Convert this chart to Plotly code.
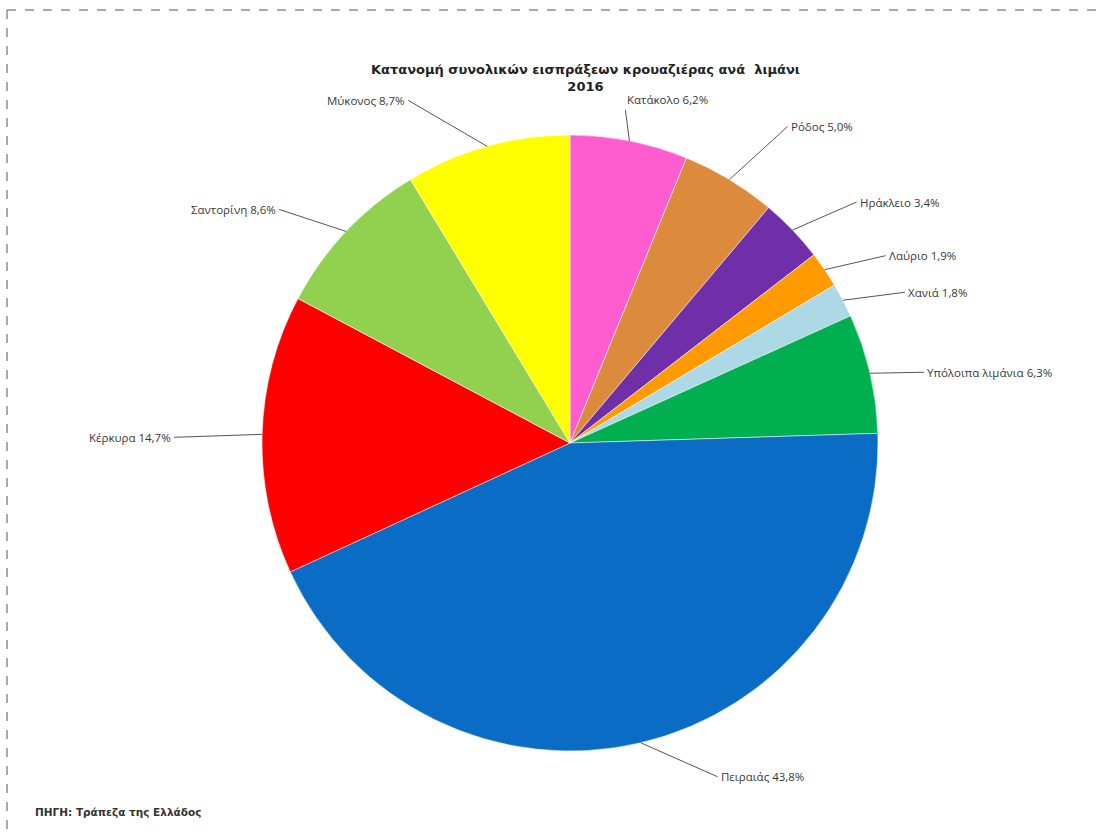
import math
import plotly.graph_objects as go

# ---- data ----
ports = ["Κατάκολο", "Ρόδος", "Ηράκλειο", "Λαύριο", "Χανιά",
         "Υπόλοιπα λιμάνια", "Πειραιάς", "Κέρκυρα", "Σαντορίνη", "Μύκονος"]
shares = [6.2, 5.0, 3.4, 1.9, 1.8, 6.3, 43.8, 14.7, 8.6, 8.7]
share_labels = ["6,2%", "5,0%", "3,4%", "1,9%", "1,8%", "6,3%", "43,8%", "14,7%", "8,6%", "8,7%"]

# ---- style ----
colors = ["#FF5CCF", "#DC8A3C", "#6E2FA8", "#FF9A00", "#ADD8E6",
          "#00B050", "#0A6CC4", "#FF0000", "#92D050", "#FFFF00"]
# leader-line offsets (pixels) from slice edge to label, per label
leader_off = [(-4, -31), (58, -53), (64, -28), (61, -14), (62, -8),
              (54, -1), (77, 34), (-88, 3), (-67, -22), (-79, -46)]

W, H = 1105, 838
CX, CY, R = 570, 443, 308  # pie centre / radius in pixels


def px(x):
    return x / W


def py(y):
    return 1 - y / H


fig = go.Figure(go.Pie(
    labels=ports, values=shares, sort=False, direction="clockwise", rotation=0,
    marker=dict(colors=colors, line=dict(color="rgba(255,255,255,0.5)", width=1)),
    textinfo="none", hoverinfo="label+percent",
    domain=dict(x=[px(CX - R), px(CX + R)], y=[py(CY + R), py(CY - R)]),
    showlegend=False,
))

total = sum(shares)
cum = 0
annotations = []
shapes = []
for name, val, lab, (dx, dy) in zip(ports, shares, share_labels, leader_off):
    mid = (cum + val / 2) / total * 2 * math.pi
    cum += val
    tx = CX + R * math.sin(mid)
    ty = CY - R * math.cos(mid)
    ex, ey = tx + dx, ty + dy
    shapes.append(dict(type="line", xref="paper", yref="paper",
                       x0=px(tx), y0=py(ty), x1=px(ex), y1=py(ey),
                       line=dict(color="#555555", width=1)))
    if name == "Κατάκολο":
        xa, ya, tx_, ty_ = "left", "bottom", ex, ey - 1
    elif dx >= 0:
        xa, ya, tx_, ty_ = "left", "middle", ex + 1, ey
    else:
        xa, ya, tx_, ty_ = "right", "middle", ex - 1, ey
    annotations.append(dict(
        x=px(tx_), y=py(ty_), xref="paper", yref="paper",
        text=f"{name} {lab}", showarrow=False, xanchor=xa, yanchor=ya,
        font=dict(family="Open Sans", size=11.5, color="#383838")))

# title
annotations.append(dict(
    x=px(585), y=py(78), xref="paper", yref="paper", xanchor="center", yanchor="middle",
    text="<b>Κατανομή συνολικών εισπράξεων κρουαζιέρας ανά  λιμάνι<br>2016</b>",
    showarrow=False, font=dict(family="DejaVu Sans", size=13, color="#222222")))
# source
annotations.append(dict(
    x=px(33), y=py(812), xref="paper", yref="paper", xanchor="left", yanchor="middle",
    text="<b>ΠΗΓΗ: Τράπεζα της Ελλάδος</b>", showarrow=False,
    font=dict(family="DejaVu Sans", size=10.5, color="#333333")))

# dashed frame
shapes.append(dict(type="line", xref="paper", yref="paper", x0=px(7), y0=py(10), x1=px(1103), y1=py(10),
                   line=dict(color="#555555", width=1, dash="dash")))
shapes.append(dict(type="line", xref="paper", yref="paper", x0=px(7), y0=py(10), x1=px(7), y1=py(838),
                   line=dict(color="#555555", width=1, dash="dash")))

fig.update_layout(
    width=W, height=H, margin=dict(l=0, r=0, t=0, b=0),
    paper_bgcolor="white", plot_bgcolor="white",
    annotations=annotations, shapes=shapes,
)

fig.write_html("out.html", config={"displayModeBar": False},
               post_script="document.body.style.margin='0';")
